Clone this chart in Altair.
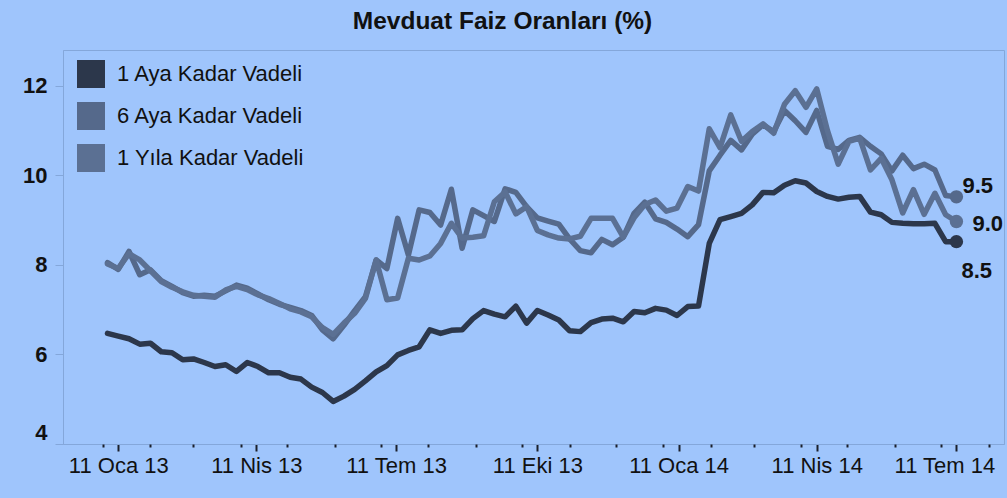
import altair as alt
import pandas as pd

# ---- data (weekly, Fridays) ----
dates = pd.date_range("2013-01-04", periods=80, freq="7D").strftime("%Y-%m-%dT00:00:00").tolist()

series_names = ["1 Aya Kadar Vadeli", "6 Aya Kadar Vadeli", "1 Yıla Kadar Vadeli"]

one_month = [6.47, 6.41, 6.35, 6.23, 6.25, 6.06, 6.04, 5.88, 5.90, 5.82,
             5.73, 5.77, 5.62, 5.82, 5.73, 5.59, 5.59, 5.49, 5.45, 5.27,
             5.15, 4.95, 5.07, 5.22, 5.41, 5.61, 5.75, 5.99, 6.09, 6.17,
             6.55, 6.47, 6.54, 6.55, 6.80, 6.98, 6.90, 6.84, 7.08, 6.70,
             6.98, 6.88, 6.77, 6.53, 6.51, 6.71, 6.79, 6.81, 6.73, 6.96,
             6.93, 7.03, 6.99, 6.87, 7.07, 7.08, 8.48, 9.01, 9.08, 9.15,
             9.34, 9.62, 9.61, 9.78, 9.88, 9.83, 9.64, 9.53, 9.47, 9.51,
             9.53, 9.18, 9.12, 8.95, 8.93, 8.92, 8.92, 8.93, 8.52, 8.52]

six_month = [8.05, 7.90, 8.30, 7.78, 7.89, 7.65, 7.52, 7.38, 7.30, 7.32,
             7.30, 7.42, 7.55, 7.48, 7.35, 7.22, 7.12, 7.05, 6.98, 6.87,
             6.55, 6.35, 6.65, 6.98, 7.29, 8.11, 7.92, 9.04, 8.22, 9.23,
             9.17, 8.89, 9.69, 8.37, 9.23, 9.10, 8.97, 9.70, 9.62, 9.30,
             9.05, 8.98, 8.91, 8.58, 8.32, 8.27, 8.57, 8.45, 8.62, 9.15,
             9.40, 9.03, 8.95, 8.80, 8.63, 8.90, 10.10, 10.45, 10.78, 10.57,
             10.92, 11.13, 10.98, 11.45, 11.22, 10.96, 11.45, 10.65, 10.58, 10.78,
             10.85, 10.65, 10.48, 10.10, 10.45, 10.15, 10.25, 10.12, 9.55, 9.52]

one_year = [8.02, 7.92, 8.25, 8.11, 7.87, 7.63, 7.50, 7.40, 7.32, 7.30,
            7.28, 7.44, 7.52, 7.45, 7.33, 7.25, 7.14, 7.02, 6.95, 6.84,
            6.60, 6.45, 6.70, 6.92, 7.25, 8.11, 7.22, 7.26, 8.15, 8.11,
            8.20, 8.48, 8.93, 8.60, 8.62, 8.65, 9.41, 9.63, 9.14, 9.30,
            8.77, 8.67, 8.60, 8.58, 8.64, 9.04, 9.04, 9.04, 8.62, 9.05,
            9.35, 9.45, 9.20, 9.27, 9.75, 9.65, 11.04, 10.62, 11.35, 10.76,
            10.98, 11.15, 10.94, 11.59, 11.89, 11.52, 11.93, 11.00, 10.25, 10.76,
            10.83, 10.12, 10.38, 9.90, 9.16, 9.68, 9.13, 9.60, 9.12, 8.97]

y_ticks = [4, 6, 8, 10, 12]
month_names = ["Oca", "Şub", "Mar", "Nis", "May", "Haz", "Tem", "Ağu", "Eyl", "Eki", "Kas", "Ara"]

# ---- styling ----
colors = ["#2c374b", "#55698b", "#5b7093"]
bg = "#9fc5fc"
frame_col = "#84a7da"
txt = "#111111"
FONT = "Liberation Sans"

rows = []
for name, vals in zip(series_names, [one_month, six_month, one_year]):
    for d, v in zip(dates, vals):
        rows.append({"date": d, "value": v, "series": name})
df = pd.DataFrame(rows)
last = df[df["date"] == dates[-1]].reset_index(drop=True)

x_domain = [alt.DateTime(year=2012, month=12, date=6), alt.DateTime(year=2014, month=8, date=11)]
x_scale = alt.Scale(domain=x_domain)
y_scale = alt.Scale(domain=[4, 12.8], nice=False, zero=False)

major_vals = [alt.DateTime(year=y, month=m, date=11) for (y, m) in
              [(2013, 1), (2013, 4), (2013, 7), (2013, 10), (2014, 1), (2014, 4), (2014, 7)]]
minor_vals = [alt.DateTime(year=2013 + (k // 12), month=(k % 12) + 1, date=1) for k in range(0, 20)]

label_expr = ("date(datum.value) + ' ' + " + str(month_names) +
              "[month(datum.value)] + ' ' + timeFormat(datum.value, '%y')")

major_axis = alt.Axis(values=major_vals, labelExpr=label_expr, title=None, grid=False,
                      tickSize=7, tickWidth=2, tickColor="#1a1f2b",
                      domainColor=frame_col, labelFont=FONT, labelFontSize=22,
                      labelColor=txt, labelPadding=4, labelFlush=False,
                      labelOffset={"condition": {"test": "datum.value > datetime(2014, 5, 1)", "value": -12}, "value": 0},
                      orient="bottom")
minor_axis = alt.Axis(values=minor_vals, labels=False, title=None, grid=False, domain=False,
                      tickSize=3, tickWidth=2, tickColor="#1a1f2b", orient="bottom")

y_axis = alt.Axis(values=y_ticks, title=None, grid=False, tickSize=8, tickColor=frame_col,
                  domainColor=frame_col, labelFont=FONT, labelFontSize=22, labelFontWeight="bold",
                  labelColor=txt, labelPadding=8, labelFlush=True)

Y = alt.Y("value:Q", scale=y_scale, axis=y_axis)
color_scale = alt.Scale(domain=series_names, range=colors)

legend = alt.Legend(orient="none", legendX=14, legendY=10, title=None,
                    symbolType="square", symbolSize=784, symbolStrokeWidth=0,
                    symbolOpacity=1, labelFont=FONT, labelFontSize=22,
                    labelColor=txt, rowPadding=14, labelOffset=12, padding=0,
                    labelLimit=400)

lines = alt.Chart(df).mark_line(strokeWidth=5.5, strokeJoin="round", strokeCap="round").encode(
    x=alt.X("date:T", scale=x_scale, axis=major_axis),
    y=Y,
    color=alt.Color("series:N", scale=color_scale, sort=series_names),
)

dots = alt.Chart(last).mark_circle(size=180, opacity=1).encode(
    x=alt.X("date:T", scale=x_scale, axis=minor_axis),
    y=Y,
    color=alt.Color("series:N", scale=color_scale, sort=series_names, legend=legend),
)

def end_label(name, dx, dy):
    return alt.Chart(last).transform_filter(alt.datum.series == name).mark_text(
        align="left", baseline="middle", dx=dx, dy=dy, font=FONT, fontSize=22,
        fontWeight="bold", color=txt).encode(
        x=alt.X("date:T", scale=x_scale, axis=None),
        y=Y,
        text=alt.Text("value:Q", format=".1f"),
    )

chart = alt.layer(
    lines, dots,
    end_label(series_names[1], 6, -11),
    end_label(series_names[2], 16, 3),
    end_label(series_names[0], 5, 29),
).resolve_axis(x="independent").properties(
    width=941, height=394,
    title=alt.Title("Mevduat Faiz Oranları (%)", font=FONT, fontSize=24.5, fontWeight="bold",
                    color=txt, anchor="middle", dx=-31, offset=16),
    autosize=alt.AutoSizeParams(type="none"),
    padding={"left": 63, "top": 50, "right": 3, "bottom": 54},
    background=bg,
).configure_view(stroke=frame_col, strokeWidth=1)

chart.save("out.html", embed_options={"renderer": "svg", "actions": False})
